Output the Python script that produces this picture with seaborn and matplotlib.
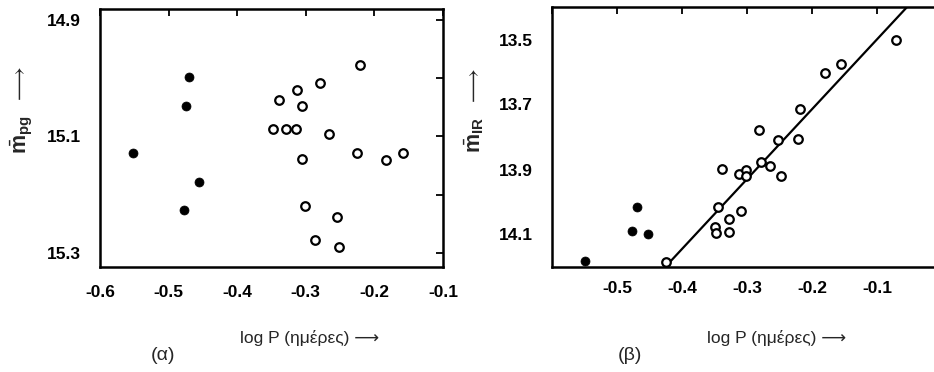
import numpy as np
import pandas as pd
import matplotlib
matplotlib.use("Agg")
import matplotlib.pyplot as plt
import seaborn as sns

sns.set_theme(style="white")
plt.rcParams['font.family'] = ['Liberation Sans', 'DejaVu Sans']
plt.rcParams['mathtext.fontset'] = 'custom'
plt.rcParams['mathtext.rm'] = 'Liberation Sans'
plt.rcParams['mathtext.it'] = 'Liberation Sans'
plt.rcParams['mathtext.bf'] = 'Liberation Sans:bold'

# ---- Panel (α): photographic magnitude vs log P ----
a_filled_logp = [-0.470, -0.475, -0.552, -0.455, -0.478]
a_filled_mag = [14.998, 15.048, 15.128, 15.178, 15.227]
a_open_logp = [-0.221, -0.280, -0.313, -0.339, -0.305, -0.348, -0.329, -0.315,
               -0.266, -0.306, -0.225, -0.183, -0.159, -0.301, -0.255, -0.286, -0.252]
a_open_mag = [14.978, 15.009, 15.020, 15.038, 15.048, 15.087, 15.087, 15.087,
              15.097, 15.139, 15.128, 15.140, 15.129, 15.219, 15.238, 15.277, 15.289]

# ---- Panel (β): infrared magnitude vs log P ----
b_filled_logp = [-0.549, -0.470, -0.477, -0.453]
b_filled_mag = [14.183, 14.014, 14.090, 14.098]
b_open_logp = [-0.425, -0.350, -0.347, -0.345, -0.338, -0.328, -0.328, -0.309,
               -0.313, -0.301, -0.302, -0.281, -0.279, -0.264, -0.253, -0.248,
               -0.221, -0.218, -0.180, -0.155, -0.071]
b_open_mag = [14.185, 14.078, 14.095, 14.014, 13.897, 14.051, 14.092, 14.029,
              13.914, 13.902, 13.920, 13.778, 13.878, 13.888, 13.808, 13.920,
              13.806, 13.715, 13.603, 13.575, 13.503]
fit_logp = [-0.423, -0.050]
fit_mag = [14.194, 13.392]

a_xticks = [-0.6, -0.5, -0.4, -0.3, -0.2, -0.1]
a_xticklabels = ["-0.6", "-0.5", "-0.4", "-0.3", "-0.2", "-0.1"]
a_yticks = [14.9, 15.0, 15.1, 15.2, 15.3]
a_yticklabels = ["14.9", "", "15.1", "", "15.3"]
b_xticks = [-0.6, -0.5, -0.4, -0.3, -0.2, -0.1, 0.0]
b_xticklabels = ["", "-0.5", "-0.4", "-0.3", "-0.2", "-0.1", ""]
b_yticks = [13.5, 13.6, 13.7, 13.8, 13.9, 14.0, 14.1]
b_yticklabels = ["13.5", "", "13.7", "", "13.9", "", "14.1"]

W, H = 934, 372
fig = plt.figure(figsize=(W / 100, H / 100), dpi=100)

def px_axes(x0, y0, x1, y1):
    return fig.add_axes([x0 / W, 1 - y1 / H, (x1 - x0) / W, (y1 - y0) / H])

ax1 = px_axes(100, 9, 443, 267)
ax2 = px_axes(552, 7, 942, 267)

def draw(ax, fx, fy, ox, oy):
    sns.scatterplot(x=fx, y=fy, ax=ax, color='black', s=42, edgecolor='black',
                    linewidth=0.5, zorder=3)
    sns.scatterplot(x=ox, y=oy, ax=ax, facecolor='white', s=38, edgecolor='black',
                    linewidth=1.6, zorder=3)

draw(ax1, a_filled_logp, a_filled_mag, a_open_logp, a_open_mag)
draw(ax2, b_filled_logp, b_filled_mag, b_open_logp, b_open_mag)
sns.lineplot(x=fit_logp, y=fit_mag, ax=ax2, color='black', linewidth=1.6, zorder=2)

ax1.set_xlim(-0.6, -0.1)
ax1.set_ylim(15.324, 14.882)
ax2.set_xlim(-0.6, 0.0)
ax2.set_ylim(14.2, 13.4)

for ax, xt, xl, yt, yl, padx, pady in [
        (ax1, a_xticks, a_xticklabels, a_yticks, a_yticklabels, 13, 14),
        (ax2, b_xticks, b_xticklabels, b_yticks, b_yticklabels, 10, 14)]:
    ax.set_xticks(xt)
    ax.set_xticklabels(xl)
    ax.set_yticks(yt)
    ax.set_yticklabels(yl)
    ax.tick_params(axis='both', direction='in', length=5, width=1.3,
                   top=True, right=True, labelsize=12.5, colors='black')
    ax.tick_params(axis='x', pad=padx)
    ax.tick_params(axis='y', pad=pady)
    for sp in ax.spines.values():
        sp.set_linewidth(1.8)
        sp.set_color('black')
    ax.set_xlabel('')
    ax.set_ylabel('')
    for t in ax.get_xticklabels() + ax.get_yticklabels():
        t.set_fontweight('bold')

def ftext(x, y, s, **kw):
    fig.text(x / W, 1 - y / H, s, **kw)

ftext(22, 110, r'$\bar{\mathbf{m}}_{\mathbf{pg}}$  $\longrightarrow$', rotation=90,
      ha='center', va='center', fontsize=15.5)
ftext(474, 110, r'$\bar{\mathbf{m}}_{\mathbf{IR}}$  $\longrightarrow$', rotation=90,
      ha='center', va='center', fontsize=15.5)
ftext(310, 338, 'log P (ημέρες) ⟶', ha='center', va='center', fontsize=12.5)
ftext(777, 338, 'log P (ημέρες) ⟶', ha='center', va='center', fontsize=12.5)
ftext(163, 356, '(α)', ha='center', va='center', fontsize=14)
ftext(630, 356, '(β)', ha='center', va='center', fontsize=14)

fig.savefig('out.png', dpi=100)
